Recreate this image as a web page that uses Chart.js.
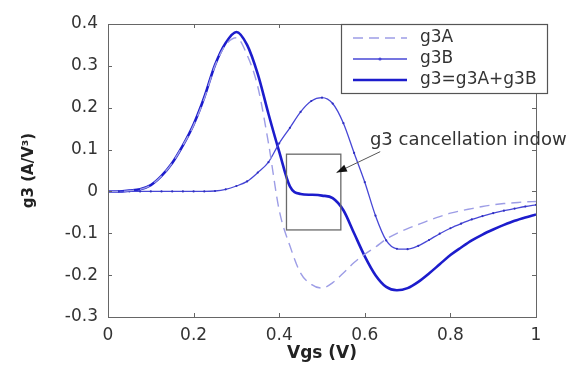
<!DOCTYPE html>
<html lang="en">
<head>
    <meta charset="UTF-8">
    <title>g3 cancellation</title>
    <script src="https://cdn.jsdelivr.net/npm/chart.js"></script>
    <style>
        body { margin: 0; background: #fff; }
        #wrap { width: 579px; height: 376px; }
    </style>
</head>
<body>
    <div id="wrap"><canvas id="myChart" width="579" height="376"></canvas></div>

    <script>
        // Vgs sample points (V)
        const vgs = [0, 0.025, 0.05, 0.075, 0.1, 0.125, 0.15, 0.175, 0.2, 0.225,
                     0.25, 0.275, 0.3, 0.325, 0.35, 0.375, 0.4, 0.425, 0.45, 0.475,
                     0.5, 0.525, 0.55, 0.575, 0.6, 0.625, 0.65, 0.675, 0.7, 0.725,
                     0.75, 0.775, 0.8, 0.825, 0.85, 0.875, 0.9, 0.925, 0.95, 0.975, 1];

        const g3A = [0, 0, 0.002, 0.005, 0.015, 0.037, 0.068, 0.11, 0.158, 0.222,
                     0.3, 0.35, 0.367, 0.326, 0.25, 0.115, -0.045, -0.13, -0.195, -0.222,
                     -0.231, -0.218, -0.195, -0.17, -0.15, -0.133, -0.114, -0.1, -0.089, -0.079,
                     -0.069, -0.06, -0.052, -0.046, -0.041, -0.036, -0.032, -0.029, -0.027, -0.025, -0.024];

        const g3B = [0, 0, 0, 0, 0, 0, 0, 0, 0, 0,
                     0.001, 0.005, 0.013, 0.024, 0.045, 0.07, 0.115, 0.152, 0.19, 0.216,
                     0.224, 0.21, 0.163, 0.092, 0.022, -0.058, -0.117, -0.137, -0.138, -0.13,
                     -0.116, -0.101, -0.088, -0.077, -0.067, -0.059, -0.052, -0.046, -0.041, -0.036, -0.032];

        const g3 = [0, 0, 0.002, 0.005, 0.015, 0.037, 0.068, 0.11, 0.16, 0.225,
                    0.302, 0.355, 0.381, 0.35, 0.28, 0.185, 0.095, 0.012, -0.006, -0.008,
                    -0.01, -0.016, -0.045, -0.1, -0.155, -0.2, -0.228, -0.236, -0.231, -0.216,
                    -0.196, -0.174, -0.152, -0.134, -0.117, -0.103, -0.091, -0.08, -0.07, -0.062, -0.055];

        const xTicks = [0, 0.2, 0.4, 0.6, 0.8, 1];
        const yTicks = [-0.3, -0.2, -0.1, 0, 0.1, 0.2, 0.3, 0.4];

        // cancellation window box and annotation, in data units
        const windowBox = { x0: 0.417, x1: 0.544, y0: -0.092, y1: 0.089 };
        const note = { text: 'g3 cancellation indow', x: 0.612, y: 0.123, tailX: 0.636, tailY: 0.095, tipX: 0.534, tipY: 0.045 };

        const pts = ys => vgs.map((v, i) => ({ x: v, y: ys[i] }));
        const FONT = 'DejaVu Sans';

        const frame = {
            id: 'frame',
            afterDatasetsDraw(chart) {
                const { ctx, chartArea: a, scales: { x, y } } = chart;
                ctx.save();
                ctx.strokeStyle = '#666';
                ctx.lineWidth = 1;
                ctx.strokeRect(a.left + 0.5, a.top + 0.5, a.right - a.left, a.bottom - a.top);
                ctx.beginPath();
                xTicks.forEach(t => {
                    const px = Math.round(x.getPixelForValue(t)) + 0.5;
                    ctx.moveTo(px, a.bottom); ctx.lineTo(px, a.bottom - 4);
                    ctx.moveTo(px, a.top); ctx.lineTo(px, a.top + 4);
                });
                yTicks.forEach(t => {
                    const py = Math.round(y.getPixelForValue(t)) + 0.5;
                    ctx.moveTo(a.left, py); ctx.lineTo(a.left + 4, py);
                    ctx.moveTo(a.right, py); ctx.lineTo(a.right - 4, py);
                });
                ctx.stroke();

                // cancellation window
                const bx0 = x.getPixelForValue(windowBox.x0), bx1 = x.getPixelForValue(windowBox.x1);
                const by0 = y.getPixelForValue(windowBox.y1), by1 = y.getPixelForValue(windowBox.y0);
                ctx.strokeStyle = '#6a6a6a';
                ctx.lineWidth = 1.3;
                ctx.strokeRect(bx0, by0, bx1 - bx0, by1 - by0);

                // arrow + text
                const tx = x.getPixelForValue(note.tailX), ty = y.getPixelForValue(note.tailY);
                const hx = x.getPixelForValue(note.tipX), hy = y.getPixelForValue(note.tipY);
                ctx.strokeStyle = '#555';
                ctx.lineWidth = 1;
                ctx.beginPath(); ctx.moveTo(tx, ty); ctx.lineTo(hx, hy); ctx.stroke();
                const ang = Math.atan2(hy - ty, hx - tx);
                ctx.fillStyle = '#111';
                ctx.beginPath();
                ctx.moveTo(hx, hy);
                ctx.lineTo(hx - 11 * Math.cos(ang - 0.35), hy - 11 * Math.sin(ang - 0.35));
                ctx.lineTo(hx - 11 * Math.cos(ang + 0.35), hy - 11 * Math.sin(ang + 0.35));
                ctx.closePath(); ctx.fill();
                ctx.fillStyle = '#333';
                ctx.font = '18px "' + FONT + '"';
                ctx.textBaseline = 'middle';
                ctx.fillText(note.text, x.getPixelForValue(note.x), y.getPixelForValue(note.y));

                // legend box
                ctx.font = '17px "' + FONT + '"';
                const lx = 341, ly = a.top, lw = 206, lh = 69;
                ctx.fillStyle = '#fff';
                ctx.fillRect(lx, ly, lw, lh);
                ctx.strokeStyle = '#555';
                ctx.lineWidth = 1.2;
                ctx.strokeRect(lx + 0.5, ly + 0.5, lw, lh);
                chart.data.datasets.forEach((ds, i) => {
                    const ry = ly + 14 + i * 21;
                    ctx.strokeStyle = ds.borderColor;
                    ctx.lineWidth = ds.borderWidth;
                    ctx.setLineDash(ds.borderDash || []);
                    ctx.beginPath(); ctx.moveTo(lx + 12, ry); ctx.lineTo(lx + 66, ry); ctx.stroke();
                    ctx.setLineDash([]);
                    if (ds.pointRadius > 0) {
                        ctx.fillStyle = ds.borderColor;
                        ctx.beginPath(); ctx.arc(lx + 39, ry, 1.6, 0, Math.PI * 2); ctx.fill();
                    }
                    ctx.fillStyle = '#333';
                    ctx.fillText(ds.label, lx + 79, ry);
                });
                ctx.restore();
            }
        };

        const ctx = document.getElementById('myChart').getContext('2d');
        new Chart(ctx, {
            type: 'line',
            data: {
                datasets: [
                    { label: 'g3A', data: pts(g3A), borderColor: '#9d9de6', borderWidth: 1.4, borderDash: [10, 6], pointRadius: 0, tension: 0.4, cubicInterpolationMode: 'monotone' },
                    { label: 'g3B', data: pts(g3B), borderColor: '#4747d6', borderWidth: 1.3, pointRadius: 1.1, pointBackgroundColor: '#3030c0', pointBorderWidth: 0, tension: 0.4, cubicInterpolationMode: 'monotone' },
                    { label: 'g3=g3A+g3B', data: pts(g3), borderColor: '#1c1ccc', borderWidth: 2.6, pointRadius: 0, tension: 0.4, cubicInterpolationMode: 'monotone' }
                ]
            },
            options: {
                responsive: false,
                animation: false,
                events: [],
                layout: { padding: { left: 16, top: 24, right: 43, bottom: 10 } },
                plugins: { legend: { display: false }, tooltip: { enabled: false } },
                scales: {
                    x: {
                        type: 'linear', min: 0, max: 1,
                        afterBuildTicks: s => { s.ticks = xTicks.map(v => ({ value: v })); },
                        afterFit: s => { s.height = 49; },
                        grid: { display: false, drawTicks: false },
                        border: { display: false },
                        ticks: { color: '#333', padding: 8, font: { family: FONT, size: 17 }, maxRotation: 0,
                                 callback: v => String(v) },
                        title: { display: true, text: 'Vgs (V)', color: '#222', padding: { top: 0, bottom: 2 }, font: { family: FONT, size: 17, weight: 'bold' } }
                    },
                    y: {
                        type: 'linear', min: -0.3, max: 0.4,
                        afterBuildTicks: s => { s.ticks = yTicks.map(v => ({ value: v })); },
                        afterFit: s => { s.width = 92; },
                        grid: { display: false, drawTicks: false },
                        border: { display: false },
                        ticks: { color: '#333', padding: 10, font: { family: FONT, size: 17 },
                                 callback: v => String(Math.round(v * 10) / 10) },
                        title: { display: true, text: 'g3 (A/V³)', color: '#222', font: { family: FONT, size: 15, weight: 'bold' } }
                    }
                }
            },
            plugins: [frame]
        });
    </script>
</body>
</html>
